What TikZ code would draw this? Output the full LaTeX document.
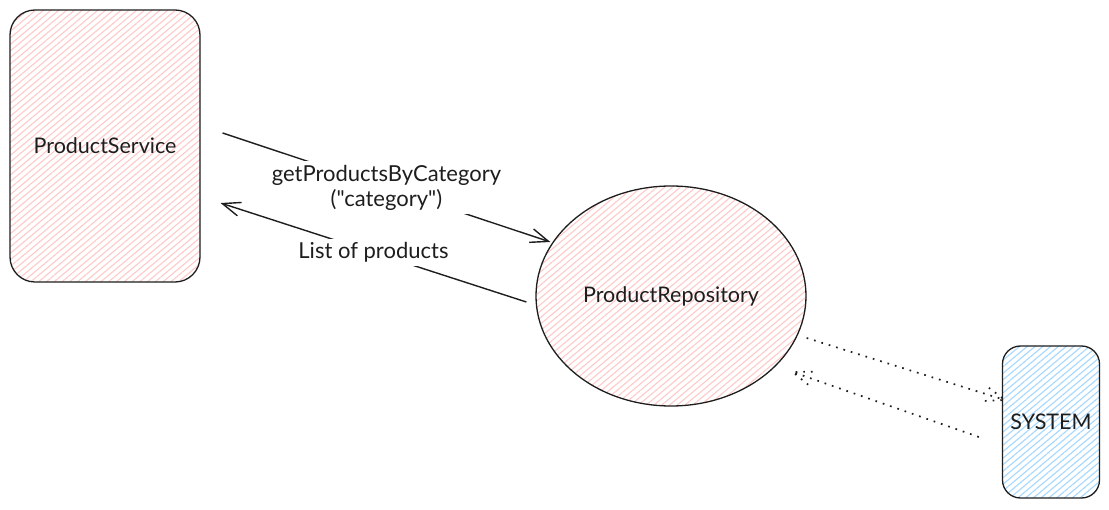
\documentclass[tikz,border=0pt]{standalone}
\usepackage{fontspec}
\setmainfont{Lato}[Ligatures=TeXOff]
\usetikzlibrary{shapes.geometric,arrows.meta,patterns.meta,calc}
\definecolor{ink}{HTML}{1E1E1E}
\definecolor{pinkhatch}{HTML}{FFC9C9}
\definecolor{bluehatch}{HTML}{A5D8FF}
\tikzset{
  shapebox/.style={draw=ink, line width=1.3pt, font=\fontsize{21.5}{24}\selectfont, text=ink},
  pinkhatchfill/.style={pattern={Lines[angle=40,distance=5pt,line width=1.1pt]}, pattern color=pinkhatch},
  bluehatchfill/.style={pattern={Lines[angle=40,distance=5pt,line width=1.1pt]}, pattern color=bluehatch},
  conn/.style={draw=ink, line width=1.4pt, -{Straight Barb[length=18pt,width=14pt,line width=1.4pt]}},
  dotline/.style={draw=ink, line width=1.7pt, dash pattern=on 1.7pt off 6pt},
  lbl/.style={fill=white, inner sep=4pt, text=ink, font=\fontsize{22}{25}\selectfont, align=center}
}
\begin{document}
\begin{tikzpicture}[x=1pt,y=-1pt]
\useasboundingbox[fill=white] (0,0) rectangle (1109,510);

\node[shapebox, pinkhatchfill, rectangle, rounded corners=25pt, minimum width=190pt, minimum height=272pt] (ps) at (105,146) {ProductService};
\node[shapebox, pinkhatchfill, ellipse, inner sep=0pt, minimum width=270pt, minimum height=220pt] (rep) at (671,296) {ProductRepository};
\node[shapebox, bluehatchfill, rectangle, rounded corners=18pt, minimum width=97pt, minimum height=152pt] (sys) at (1051,422) {SYSTEM};

% solid connectors
\coordinate (a1s) at ($(ps.east)+(22,-13)$);
\coordinate (a1e) at ($(rep.west)+(15,-54)$);
\draw[conn] (a1s) -- node[lbl]{getProductsByCategory\\("category")} (a1e);

\coordinate (a2s) at ($(rep.west)+(-9,6)$);
\coordinate (a2e) at ($(ps.east)+(20,57)$);
\draw[conn] (a2s) -- node[lbl]{List of products} (a2e);

% dotted connectors
\coordinate (d1s) at ($(rep.east)+(0,42)$);
\coordinate (d1e) at ($(sys.west)+(3,-22)$);
\draw[dotline] (d1s) -- (d1e);
\draw[dotline] ($(d1e)!20pt!20:(d1s)$) -- (d1e) -- ($(d1e)!20pt!-20:(d1s)$);

\coordinate (d2s) at ($(sys.west)+(-23,15)$);
\coordinate (d2e) at ($(rep.east)+(-14,76)$);
\draw[dotline] (d2s) -- (d2e);
\draw[dotline] ($(d2e)!20pt!20:(d2s)$) -- (d2e) -- ($(d2e)!20pt!-20:(d2s)$);
\end{tikzpicture}
\end{document}
